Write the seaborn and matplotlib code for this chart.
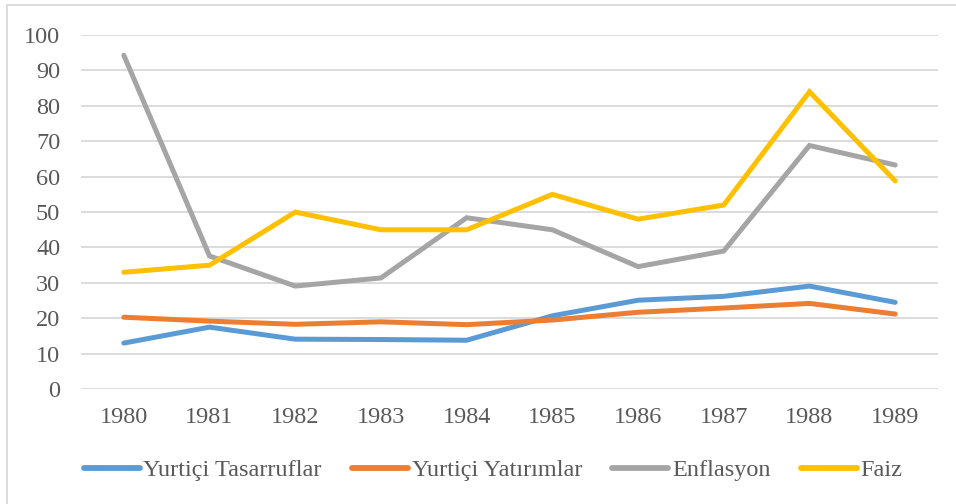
import numpy as np
import pandas as pd
import matplotlib
matplotlib.use("Agg")
import matplotlib.pyplot as plt
import seaborn as sns

# Data
years = ["1980", "1981", "1982", "1983", "1984", "1985", "1986", "1987", "1988", "1989"]
tasarruf = [13.0, 17.5, 14.1, 14.0, 13.8, 20.7, 25.1, 26.2, 29.1, 24.5]
yatirim = [20.3, 19.2, 18.3, 19.0, 18.2, 19.5, 21.7, 22.9, 24.2, 21.2]
enflasyon = [94.3, 37.6, 29.1, 31.4, 48.4, 45.0, 34.6, 39.0, 68.8, 63.3]
faiz = [33.0, 35.0, 50.0, 45.0, 45.0, 55.0, 48.0, 52.0, 84.0, 58.8]

series_names = ["Yurtiçi Tasarruflar", "Yurtiçi Yatırımlar", "Enflasyon", "Faiz"]
colors = ["#5B9BD5", "#ED7D31", "#A5A5A5", "#FFC000"]

df = pd.DataFrame({
    "Yıl": years * 4,
    "Değer": tasarruf + yatirim + enflasyon + faiz,
    "Seri": np.repeat(series_names, len(years)),
})

sns.set_style("white")
plt.rcParams['font.family'] = ['Liberation Serif', 'DejaVu Serif']
text_color = "#595959"
fsize = 17.5
lw = 3.6

fig = plt.figure(figsize=(9.56, 5.04), dpi=100)
ax = fig.add_axes([0.0847, 0.228, 0.8965, 0.7024])

sns.lineplot(data=df, x="Yıl", y="Değer", hue="Seri", hue_order=series_names,
             palette=colors, linewidth=lw, sort=False, ax=ax, legend=False,
             solid_capstyle="round", solid_joinstyle="miter")

ax.set_ylim(0, 100)
ax.set_xlim(-0.5, len(years) - 0.5)
ax.set_yticks(range(0, 101, 10))
ax.yaxis.grid(True, color="#D9D9D9", linewidth=1.3)
ax.set_axisbelow(True)
for s in ax.spines.values():
    s.set_visible(False)
ax.tick_params(axis="both", length=0, labelsize=fsize, colors=text_color)
ax.tick_params(axis="y", pad=15)
ax.tick_params(axis="x", pad=13)
ax.set_xlabel("")
ax.set_ylabel("")

handles = [plt.Line2D([], [], color=c, linewidth=lw + 0.6, solid_capstyle="round")
           for c in colors]
leg = fig.legend(handles, series_names, loc="center", bbox_to_anchor=(493 / 956, 1 - 470 / 504),
                 ncol=4, frameon=False, prop={"family": "Liberation Serif", "size": fsize},
                 handlelength=2.3, handletextpad=0.15, columnspacing=1.25)
for t in leg.get_texts():
    t.set_color(text_color)

# thin chart-area border (left and top edges visible)
fig.add_artist(plt.Line2D([7 / 956, 7 / 956], [0, 1 - 5 / 504], transform=fig.transFigure,
                          color="#D9D9D9", linewidth=1.3))
fig.add_artist(plt.Line2D([7 / 956, 1], [1 - 5 / 504, 1 - 5 / 504], transform=fig.transFigure,
                          color="#D9D9D9", linewidth=1.3))

fig.savefig("out.png", dpi=100)
